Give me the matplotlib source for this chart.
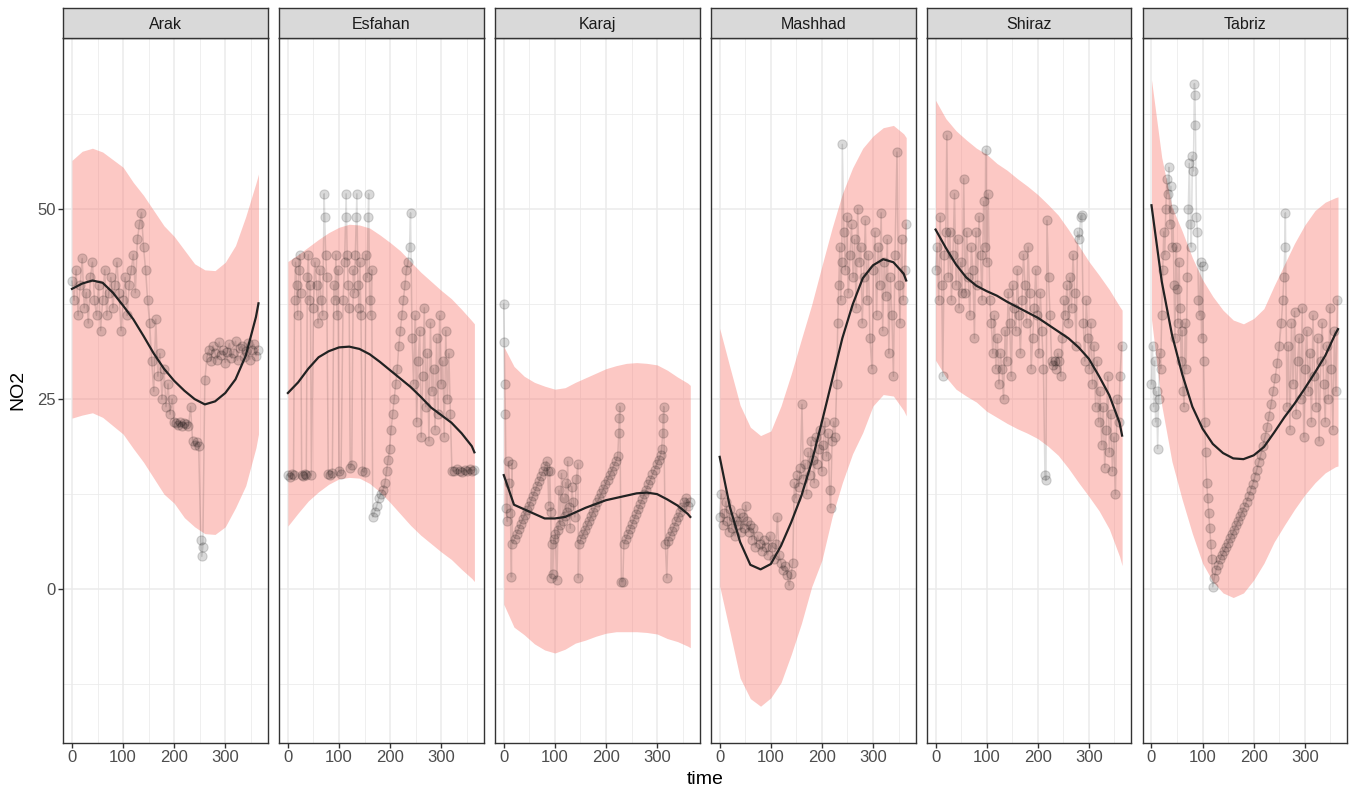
import matplotlib
matplotlib.use("Agg")
import matplotlib.pyplot as plt

plt.rcParams['font.family'] = ['Liberation Sans', 'DejaVu Sans']

CITIES = ["Arak", "Esfahan", "Karaj", "Mashhad", "Shiraz", "Tabriz"]

# ---- fitted curve and prediction band (common day grid) ----
T_GRID = [0, 20, 40, 60, 80, 100, 120, 140, 160, 180, 200, 220, 240, 260, 280, 300, 320, 340, 360, 365]

ARAK_FIT = [39.5, 40.2, 40.6, 40.3, 39.0, 37.3, 35.5, 33.3, 31.0, 29.0, 27.4, 26.1, 25.0, 24.3, 24.7, 25.8, 27.6, 30.7, 35.8, 37.6]
ARAK_HI = [56.4, 57.6, 58.0, 57.5, 56.5, 55.5, 53.5, 51.8, 49.8, 47.8, 46.4, 44.6, 42.8, 42.0, 41.9, 43.0, 45.2, 49.0, 53.4, 54.6]
ARAK_LO = [22.5, 22.9, 23.2, 22.6, 21.5, 20.4, 18.5, 16.7, 14.6, 12.5, 11.3, 9.4, 8.2, 7.3, 7.2, 8.2, 10.7, 13.6, 18.6, 20.4]

ESFAHAN_FIT = [25.8, 27.2, 29.0, 30.5, 31.3, 31.8, 31.9, 31.6, 30.9, 29.9, 28.8, 27.7, 26.6, 25.3, 23.9, 22.9, 21.9, 20.5, 18.8, 18.0]
ESFAHAN_HI = [43.1, 44.0, 45.0, 46.0, 46.9, 47.6, 48.0, 47.9, 47.5, 46.6, 45.6, 44.5, 43.1, 41.7, 40.5, 39.3, 38.2, 36.8, 35.3, 34.9]
ESFAHAN_LO = [8.3, 10.0, 11.6, 12.8, 13.8, 14.5, 14.7, 14.6, 13.9, 12.8, 11.4, 9.9, 8.4, 7.1, 6.0, 4.9, 3.9, 2.6, 1.4, 1.0]

KARAJ_FIT = [15.0, 11.1, 10.5, 9.9, 9.3, 9.3, 9.5, 10.1, 10.7, 11.2, 11.7, 12.0, 12.3, 12.6, 12.7, 12.5, 11.8, 11.0, 9.9, 9.5]
KARAJ_HI = [31.9, 29.3, 28.0, 27.2, 26.7, 26.3, 26.5, 27.2, 27.8, 28.4, 29.0, 29.4, 29.7, 29.8, 29.7, 29.5, 28.8, 27.9, 27.1, 26.8]
KARAJ_LO = [-2.0, -5.0, -6.0, -7.2, -8.0, -8.4, -7.9, -7.1, -6.7, -6.2, -5.8, -5.6, -5.6, -5.6, -5.7, -5.9, -6.5, -6.9, -7.5, -7.7]

MASHHAD_FIT = [17.4, 10.8, 6.2, 3.2, 2.6, 3.3, 5.7, 8.8, 12.3, 16.7, 22.0, 27.5, 33.0, 37.4, 40.9, 42.6, 43.4, 43.0, 41.5, 40.6]
MASHHAD_HI = [34.3, 29.2, 24.2, 21.3, 20.2, 20.8, 24.1, 28.3, 32.9, 37.4, 42.5, 47.5, 52.0, 55.4, 58.0, 59.6, 60.7, 61.0, 59.9, 59.4]
MASHHAD_LO = [0.4, -5.6, -11.7, -14.4, -15.4, -14.3, -12.3, -8.6, -4.5, 0.3, 3.8, 9.5, 14.0, 17.8, 20.6, 24.1, 25.6, 25.4, 23.5, 22.8]

SHIRAZ_FIT = [47.3, 44.9, 42.7, 41.0, 39.9, 39.2, 38.6, 37.8, 37.1, 36.4, 35.7, 34.8, 33.9, 33.0, 31.8, 30.3, 28.0, 25.5, 21.9, 20.2]
SHIRAZ_HI = [64.3, 61.9, 60.3, 59.1, 58.0, 57.2, 56.0, 55.1, 54.0, 53.0, 51.9, 50.6, 49.2, 47.3, 45.2, 43.1, 41.3, 39.4, 37.2, 36.7]
SHIRAZ_LO = [30.1, 27.9, 26.3, 25.4, 24.6, 23.4, 22.6, 21.8, 21.1, 20.5, 19.8, 18.8, 17.6, 15.9, 14.0, 12.2, 10.3, 7.9, 4.3, 3.1]

TABRIZ_FIT = [50.5, 40.5, 33.5, 28.3, 24.0, 21.1, 19.1, 17.9, 17.2, 17.1, 17.6, 18.7, 20.6, 22.6, 24.4, 26.4, 28.5, 30.7, 33.6, 34.2]
TABRIZ_HI = [67.0, 56.8, 50.3, 47.1, 43.6, 40.7, 38.5, 36.7, 35.4, 34.9, 35.6, 36.9, 39.9, 42.7, 45.5, 47.9, 49.8, 50.9, 51.5, 51.6]
TABRIZ_LO = [35.5, 24.2, 16.8, 11.8, 7.3, 3.4, 1.0, -0.5, -1.1, -0.5, 1.2, 3.4, 6.2, 8.4, 10.5, 12.4, 14.0, 15.3, 16.1, 16.2]

# ---- observed values ----
ARAK_T = [0, 4, 8, 12, 16, 20, 24, 28, 32, 36,
          40, 44, 48, 52, 56, 60, 64, 68, 72, 76,
          80, 84, 88, 92, 96, 100, 104, 108, 112, 116,
          120, 124, 128, 132, 136, 140, 144, 148, 152, 156,
          160, 164, 168, 172, 176, 180, 184, 188, 192, 196,
          200, 204, 208, 212, 216, 220, 224, 228, 232, 236,
          240, 244, 248, 252, 254, 256, 260, 264, 268, 272,
          276, 280, 284, 288, 292, 296, 300, 304, 308, 312,
          316, 320, 324, 328, 332, 336, 340, 344, 348, 352,
          356, 360, 364]
ARAK_NO2 = [40.5, 38, 42, 36, 40, 43.5, 37, 39, 35, 41,
            43, 38, 36, 40, 34, 38, 42, 36, 39, 41,
            37, 40, 43, 39, 34, 38, 41, 36, 40, 42,
            44, 39, 46, 48, 49.5, 45, 42, 38, 35, 30,
            26, 35.5, 28, 31, 25, 29, 24, 27, 23, 25,
            22, 21.8, 21.6, 22, 21.5, 21.9, 21.7, 21.5, 24, 19.5,
            19, 19.3, 18.8, 6.5, 4.3, 5.5, 27.5, 30.5, 31.5, 30,
            32, 31, 30.2, 32.5, 30.8, 31.5, 29.8, 31.2, 32.3, 30.4,
            31, 32.6, 30.1, 31.7, 32, 30.6, 31.3, 32.4, 30.2, 31.5,
            32.2, 30.7, 31.5]

ESFAHAN_T = [0, 4, 8, 11, 13, 15, 17, 19, 21, 23,
             25, 27, 30, 33, 36, 38, 40, 42, 44, 46,
             50, 53, 56, 59, 62, 65, 68, 71, 72, 74,
             76, 79, 83, 87, 90, 92, 94, 96, 98, 100,
             104, 108, 111, 113, 114, 116, 118, 120, 122, 125,
             128, 130, 132, 134, 135, 137, 139, 141, 143, 146,
             150, 153, 155, 157, 158, 160, 162, 164, 166, 170,
             174, 178, 182, 186, 190, 193, 196, 199, 202, 205,
             208, 211, 214, 217, 220, 223, 226, 229, 232, 235,
             238, 240, 243, 246, 249, 252, 255, 258, 261, 264,
             267, 270, 273, 276, 279, 282, 285, 288, 291, 294,
             297, 300, 303, 306, 309, 312, 315, 318, 321, 326,
             331, 336, 341, 346, 351, 356, 361, 365]
ESFAHAN_NO2 = [15.0, 14.8, 15.1, 15.0, 38, 43, 40, 36, 42, 44,
               39, 15.0, 14.9, 15.1, 15.0, 41, 44, 38, 40, 15.0,
               37, 43, 40, 35, 42, 38, 36, 52, 49, 44,
               41, 15.2, 15.0, 15.3, 40, 38, 44, 36, 42, 15.5,
               15.2, 38, 43, 49, 52, 44, 40, 37, 16.0, 16.3,
               42, 39, 44, 49, 52, 40, 37, 43, 36, 15.5,
               15.4, 44, 41, 49, 52, 38, 36, 42, 9.5, 10.2,
               11.0, 12.0, 12.5, 13.0, 14.0, 15.5, 17.0, 18.5, 21.0, 23.0,
               25.0, 27.0, 29.0, 32.0, 34.0, 36.0, 38.0, 40.0, 42.0, 43.0,
               45.0, 49.5, 33, 27, 36, 22, 30, 34, 20, 28,
               37, 24, 31, 19.5, 35, 26, 29, 21, 33, 23,
               36, 27, 30, 20, 34, 25, 31, 23, 15.6, 15.5,
               15.8, 15.6, 15.4, 15.7, 15.5, 15.8, 15.6, 15.7]

KARAJ_T = [0, 1, 2, 3, 5, 7, 9, 11, 13, 15,
           16, 17, 21, 25, 29, 33, 37, 41, 45, 49,
           53, 57, 61, 65, 69, 73, 77, 81, 84, 86,
           88, 90, 92, 93, 94, 96, 98, 101, 104, 106,
           108, 110, 113, 115, 117, 119, 121, 123, 125, 127,
           130, 133, 136, 139, 142, 145, 146, 147, 151, 155,
           159, 163, 167, 171, 175, 179, 183, 187, 191, 195,
           199, 203, 207, 211, 215, 219, 223, 225, 226, 227,
           230, 233, 235, 239, 243, 247, 251, 255, 259, 263,
           267, 271, 275, 279, 283, 287, 291, 295, 299, 303,
           307, 309, 311, 312, 313, 316, 319, 321, 325, 329,
           333, 337, 341, 345, 349, 353, 357, 361, 365]
KARAJ_NO2 = [37.5, 32.5, 27, 23, 10.7, 8.9, 16.8, 14, 10, 1.6,
             16.5, 6.0, 6.6, 7.3, 7.9, 8.6, 9.2, 9.8, 10.4, 11.0,
             11.6, 12.3, 12.9, 13.6, 14.2, 14.9, 15.5, 16.2, 16.8, 15.5,
             11.0, 15.5, 10.2, 1.5, 6.0, 2.0, 6.6, 7.2, 1.2, 7.8,
             13.0, 8.4, 15.2, 9.0, 12.0, 9.6, 14.0, 10.2, 16.8, 10.8,
             8.0, 13.5, 11.5, 9.5, 14.5, 16.5, 1.5, 6.0, 6.6, 7.2,
             7.8, 8.4, 9.0, 9.6, 10.2, 10.8, 11.4, 12.0, 12.6, 13.2,
             13.8, 14.4, 15.0, 15.6, 16.2, 16.8, 17.5, 20.5, 22.5, 24.0,
             1.0, 1.0, 6.0, 6.6, 7.3, 7.9, 8.6, 9.2, 9.9, 10.5,
             11.2, 11.8, 12.5, 13.1, 13.8, 14.4, 15.1, 15.7, 16.4, 17.0,
             17.7, 18.5, 20.5, 22.5, 24.0, 6.0, 1.5, 6.3, 7.0, 7.6,
             8.2, 8.9, 9.5, 10.1, 10.8, 11.4, 12.0, 11.0, 11.5]

MASHHAD_T = [0, 3, 6, 9, 12, 15, 18, 21, 24, 27,
             30, 33, 36, 39, 42, 45, 48, 51, 54, 57,
             60, 63, 66, 70, 74, 78, 82, 86, 90, 94,
             98, 102, 106, 110, 113, 116, 120, 124, 128, 132,
             136, 140, 143, 146, 149, 152, 155, 158, 161, 164,
             167, 170, 173, 176, 179, 182, 185, 188, 191, 194,
             197, 200, 203, 206, 209, 212, 215, 217, 220, 223,
             226, 229, 231, 233, 235, 237, 239, 240, 243, 246,
             249, 252, 255, 258, 261, 264, 267, 270, 273, 276,
             279, 282, 285, 288, 291, 294, 298, 301, 304, 307,
             310, 313, 316, 319, 322, 325, 328, 331, 334, 337,
             340, 343, 347, 350, 353, 356, 359, 362, 365]
MASHHAD_NO2 = [9.5, 12.5, 8.5, 10.0, 11.5, 9.0, 7.5, 10.5, 8.0, 9.5,
               7.0, 9.0, 8.5, 10.0, 7.5, 9.5, 8.0, 11.0, 9.0, 7.5,
               8.5, 6.5, 8.0, 5.5, 7.0, 6.0, 5.0, 6.5, 5.5, 4.5,
               7.0, 5.5, 4.0, 6.0, 9.5, 4.5, 3.5, 2.5, 3.0, 1.8,
               0.5, 2.0, 3.5, 14.0, 12.0, 15.0, 13.5, 16.0, 24.3, 14.5,
               16.5, 12.5, 18.0, 15.0, 19.5, 17.0, 14.0, 20.0, 16.5, 18.5,
               21.0, 15.5, 19.0, 22.0, 17.5, 20.5, 13.0, 10.7, 19.5, 22.0,
               20.0, 27.0, 35.0, 40.0, 45.0, 38.0, 43.0, 58.5, 47.0, 42.0,
               49.0, 39.0, 44.0, 48.0, 41.0, 46.0, 37.0, 50.0, 43.0, 45.0,
               35.0, 41.0, 48.5, 38.0, 44.0, 33.0, 29.0, 42.0, 47.0, 36.0,
               45.0, 40.0, 49.5, 34.0, 43.0, 38.5, 46.0, 31.0, 41.0, 36.0,
               28.0, 44.0, 57.5, 40.0, 35.0, 46.0, 38.0, 42.0, 48.0]

SHIRAZ_T = [0, 3, 6, 9, 12, 14, 17, 20, 22, 25,
            28, 31, 34, 37, 40, 43, 46, 49, 52, 55,
            58, 61, 64, 67, 70, 73, 76, 79, 82, 85,
            88, 91, 94, 97, 98, 100, 103, 106, 109, 112,
            115, 118, 121, 124, 127, 130, 133, 136, 139, 142,
            145, 148, 151, 154, 157, 160, 163, 166, 169, 172,
            175, 178, 181, 184, 187, 190, 193, 196, 199, 202,
            205, 208, 211, 214, 216, 218, 221, 224, 227, 230,
            233, 236, 239, 242, 245, 248, 251, 254, 257, 260,
            263, 266, 269, 272, 275, 278, 281, 284, 286, 289,
            292, 295, 298, 301, 304, 307, 310, 313, 316, 319,
            322, 325, 328, 331, 334, 337, 340, 343, 346, 349,
            352, 355, 358, 361, 364]
SHIRAZ_NO2 = [42, 45, 38, 49, 40, 28, 44, 47, 59.7, 41,
              47, 38, 44, 52, 40, 46, 37, 43, 39, 54,
              39, 47, 41, 36, 45, 42, 33, 47, 40, 49,
              44, 38, 51, 45, 57.8, 43, 52, 38, 35, 31,
              36, 29, 33, 27, 31, 29, 25, 34, 30, 39,
              35, 28, 40, 37, 34, 42, 36, 31, 38, 44,
              40, 35, 45, 39, 29, 33, 37, 42, 36, 31,
              39, 34, 29, 15.0, 14.3, 48.5, 41, 36, 30, 29.5,
              30, 29, 31, 30, 28, 33, 38, 36, 40, 35,
              41, 37, 44, 39, 32, 47, 46, 49, 49.2, 35,
              30, 38, 33, 29, 35, 27, 32, 24, 30, 22,
              26, 19, 24, 16, 21, 28, 18, 23, 15.5, 20,
              12.5, 25, 22, 28, 32]

TABRIZ_T = [0, 2, 4, 6, 8, 10, 12, 14, 16, 18,
            20, 22, 24, 26, 28, 30, 32, 34, 36, 38,
            40, 42, 44, 46, 48, 50, 52, 54, 56, 58,
            60, 62, 64, 66, 68, 70, 72, 74, 76, 78,
            80, 82, 84, 85, 86, 88, 90, 92, 94, 96,
            98, 100, 102, 104, 106, 108, 110, 112, 114, 116,
            118, 120, 123, 126, 130, 134, 138, 142, 146, 150,
            154, 158, 162, 166, 170, 174, 178, 182, 186, 190,
            194, 198, 202, 206, 210, 214, 218, 222, 226, 230,
            234, 238, 242, 246, 250, 254, 257, 259, 261, 262,
            265, 268, 271, 274, 277, 280, 283, 286, 289, 292,
            295, 298, 301, 304, 307, 310, 313, 316, 319, 322,
            325, 328, 331, 334, 337, 340, 343, 346, 349, 352,
            355, 358, 361, 364]
TABRIZ_NO2 = [27, 32, 24, 30, 22, 26, 18.5, 25, 31, 29,
              36, 42, 47, 44, 50, 54, 52, 55.5, 48, 53,
              45, 50, 40, 33, 45, 39.5, 35, 43, 37, 30,
              34, 26, 24, 35, 29, 41, 50, 56, 48, 45,
              57, 55, 66.5, 65, 61, 49, 47, 38, 36, 43,
              33, 42.5, 30, 22, 18, 14, 12, 10, 8, 6,
              4, 0.3, 1.5, 2.5, 3.2, 3.9, 4.5, 5.0, 5.6, 6.1,
              6.7, 7.2, 7.8, 8.4, 9.0, 9.6, 10.2, 10.8, 11.5, 12.2,
              13.0, 13.8, 14.7, 15.7, 16.7, 17.7, 18.8, 20.0, 21.3, 22.8,
              24.3, 26.0, 27.8, 29.8, 32.0, 35.0, 38.0, 41.0, 45.0, 49.5,
              24, 32, 21, 35, 27, 36.5, 23, 30, 33, 25,
              37, 20, 29, 34, 26, 31, 22, 36, 28, 24,
              33, 19.5, 30, 35, 27, 22, 32, 25, 37, 29,
              21, 34, 26, 38]

SERIES = {
    "Arak": (ARAK_T, ARAK_NO2, ARAK_FIT, ARAK_LO, ARAK_HI),
    "Esfahan": (ESFAHAN_T, ESFAHAN_NO2, ESFAHAN_FIT, ESFAHAN_LO, ESFAHAN_HI),
    "Karaj": (KARAJ_T, KARAJ_NO2, KARAJ_FIT, KARAJ_LO, KARAJ_HI),
    "Mashhad": (MASHHAD_T, MASHHAD_NO2, MASHHAD_FIT, MASHHAD_LO, MASHHAD_HI),
    "Shiraz": (SHIRAZ_T, SHIRAZ_NO2, SHIRAZ_FIT, SHIRAZ_LO, SHIRAZ_HI),
    "Tabriz": (TABRIZ_T, TABRIZ_NO2, TABRIZ_FIT, TABRIZ_LO, TABRIZ_HI),
}
for name, (t, v, f, lo, hi) in SERIES.items():
    if len(t) != len(v):
        raise ValueError(f"{name}: {len(t)} times vs {len(v)} values")

X_TICKS = [0, 100, 200, 300]
X_MINOR = [50, 150, 250, 350]
Y_TICKS = [0, 25, 50]
Y_MINOR = [-12.5, 12.5, 37.5, 62.5]

W, H = 1353, 793
fig = plt.figure(figsize=(W / 100, H / 100), dpi=100)

left0, pw, step = 63.3, 204.5, 215.9
top, bottom, strip_top = 38.0, 742.7, 8.3

GRID = "#EBEBEB"
DARK = "#333333"

for i, city in enumerate(CITIES):
    t, v, fit, lo, hi = SERIES[city]
    x0 = left0 + i * step
    ax = fig.add_axes([x0 / W, 1 - bottom / H, pw / W, (bottom - top) / H])
    ax.set_xlim(-17.0, 383.2)
    ax.set_ylim(-20.2, 72.5)
    ax.set_xticks(X_TICKS)
    ax.set_xticks(X_MINOR, minor=True)
    ax.set_yticks(Y_TICKS)
    ax.set_yticks(Y_MINOR, minor=True)
    ax.grid(True, which="major", color=GRID, linewidth=1.1, zorder=0)
    ax.grid(True, which="minor", color=GRID, linewidth=0.55, zorder=0)
    ax.set_axisbelow(True)

    ax.fill_between(T_GRID, lo, hi, color="#F8766D", alpha=0.4, linewidth=0, zorder=1)
    ax.plot(t, v, color="black", alpha=0.13, linewidth=1.1, zorder=2)
    ax.scatter(t, v, s=44, color="black", alpha=0.15, linewidths=0.8, zorder=3)
    ax.plot(T_GRID, fit, color="#222222", linewidth=1.6, zorder=4)

    for sp in ax.spines.values():
        sp.set_color(DARK)
        sp.set_linewidth(1.0)
    ax.tick_params(which="major", length=3.5, width=1.0, color=DARK,
                   labelcolor="#4D4D4D", labelsize=12, pad=2)
    ax.tick_params(which="minor", length=0)
    if i == 0:
        ax.set_yticklabels([str(y) for y in Y_TICKS])
    else:
        ax.tick_params(axis="y", which="both", left=False, labelleft=False)
    ax.set_xticklabels([str(x) for x in X_TICKS])

    sax = fig.add_axes([x0 / W, 1 - top / H, pw / W, (top - strip_top) / H])
    sax.set_facecolor("#D9D9D9")
    sax.set_xticks([])
    sax.set_yticks([])
    for sp in sax.spines.values():
        sp.set_color(DARK)
        sp.set_linewidth(1.0)
    sax.text(0.5, 0.47, city, ha="center", va="center", fontsize=11.5, color="#1A1A1A",
             transform=sax.transAxes)

fig.text(18 / W, 1 - ((top + bottom) / 2) / H, "NO2", rotation=90, ha="center", va="center",
         fontsize=14, color="black")
fig.text(705 / W, 1 - 779 / H, "time", ha="center", va="center", fontsize=14, color="black")

fig.savefig("out.png", dpi=100, facecolor="white")
